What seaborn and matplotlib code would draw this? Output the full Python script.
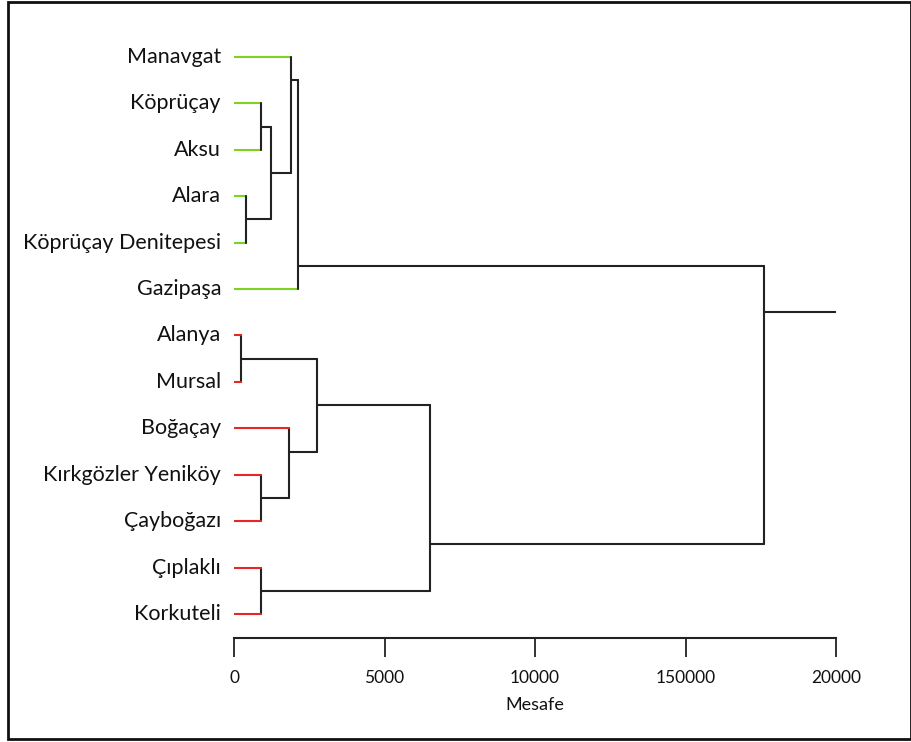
import matplotlib
matplotlib.use("Agg")
import matplotlib.pyplot as plt
import seaborn as sns
import pandas as pd
from matplotlib.patches import Rectangle

# ---- data ----
leaves = ["Manavgat", "Köprüçay", "Aksu", "Alara", "Köprüçay Denitepesi", "Gazipaşa",
          "Alanya", "Mursal", "Boğaçay", "Kırkgözler Yeniköy", "Çayboğazı",
          "Çıplaklı", "Korkuteli"]
leaf_group = ["A", "A", "A", "A", "A", "A", "B", "B", "B", "B", "B", "B", "B"]
# merges: node ids continue after leaves (13, 14, ...)
merge_left = [1, 3, 13, 0, 16, 6, 9, 8, 18, 11, 21, 17]
merge_right = [2, 4, 14, 15, 5, 7, 10, 19, 20, 12, 22, 23]
merge_height = [900, 400, 1220, 1880, 2120, 230, 900, 1820, 2750, 900, 6510, 17600]
merge_out_row = [1.5, 3.5, 2.5, 0.5, 4.5, 6.5, 9.5, 8.5, 7.5, 11.5, 10.5, 5.5]
root_tail = 20000
tick_values = [0, 5000, 10000, 15000, 20000]
tick_labels = ["0", "5000", "10000", "150000", "20000"]
group_colors = {"A": "#7ed321", "B": "#e8262a", "link": "#222222"}

# ---- build segments ----
n = len(leaves)
node_row = {i: float(i) for i in range(n)}
node_h = {i: 0.0 for i in range(n)}
rows = []
seg = 0

def add(xs, ys, kind):
    global seg
    for x, y in zip(xs, ys):
        rows.append({"seg": seg, "x": x, "y": y, "kind": kind})
    seg += 1

for k, (a, b, h, r) in enumerate(zip(merge_left, merge_right, merge_height, merge_out_row)):
    nid = n + k
    for c in (a, b):
        kind = leaf_group[c] if c < n else "link"
        add([node_h[c], h], [node_row[c], node_row[c]], kind)
    add([h, h], [node_row[a], node_row[b]], "link")
    node_row[nid] = r
    node_h[nid] = h
root = n + len(merge_height) - 1
add([node_h[root], root_tail], [node_row[root], node_row[root]], "link")

df = pd.DataFrame(rows)

# ---- plot ----
sns.set_style("white")
plt.rcParams["font.family"] = ["Lato", "DejaVu Sans"]

W, H = 912, 742
fig = plt.figure(figsize=(W / 100, H / 100), dpi=100)
ax_left, ax_right = 234, 836
ax_top, ax_bot = 30, 638
ax = fig.add_axes([ax_left / W, 1 - ax_bot / H, (ax_right - ax_left) / W, (ax_bot - ax_top) / H])

row0, pitch = 57, (614 - 57) / 12
sns.lineplot(data=df, x="x", y="y", hue="kind", units="seg", estimator=None, sort=False,
             palette=group_colors, linewidth=1.5, legend=False, ax=ax)

ax.set_xlim(0, 20000)
ax.set_ylim((ax_bot - row0) / pitch, (ax_top - row0) / pitch)

for s in ["top", "right", "left"]:
    ax.spines[s].set_visible(False)
ax.spines["bottom"].set_color("#222222")
ax.spines["bottom"].set_linewidth(1.5)
ax.set_yticks([])
ax.set_xticks(tick_values)
ax.set_xticklabels(tick_labels, fontsize=12.5, color="#111111")
ax.tick_params(axis="x", direction="out", length=14, width=1.3, color="#222222", pad=9, bottom=True)
ax.set_xlabel("Mesafe", fontsize=13, labelpad=8, color="#111111")
ax.set_ylabel("")

for i, name in enumerate(leaves):
    ax.text(-13 * 20000 / (ax_right - ax_left), i, name, ha="right", va="center",
            fontsize=15.5, color="#111111")

fig.patches.append(Rectangle((8 / W, 3 / H), (W - 9) / W, (H - 5) / H,
                             transform=fig.transFigure, fill=False,
                             edgecolor="#111111", linewidth=2))

fig.savefig("out.png", dpi=100)
